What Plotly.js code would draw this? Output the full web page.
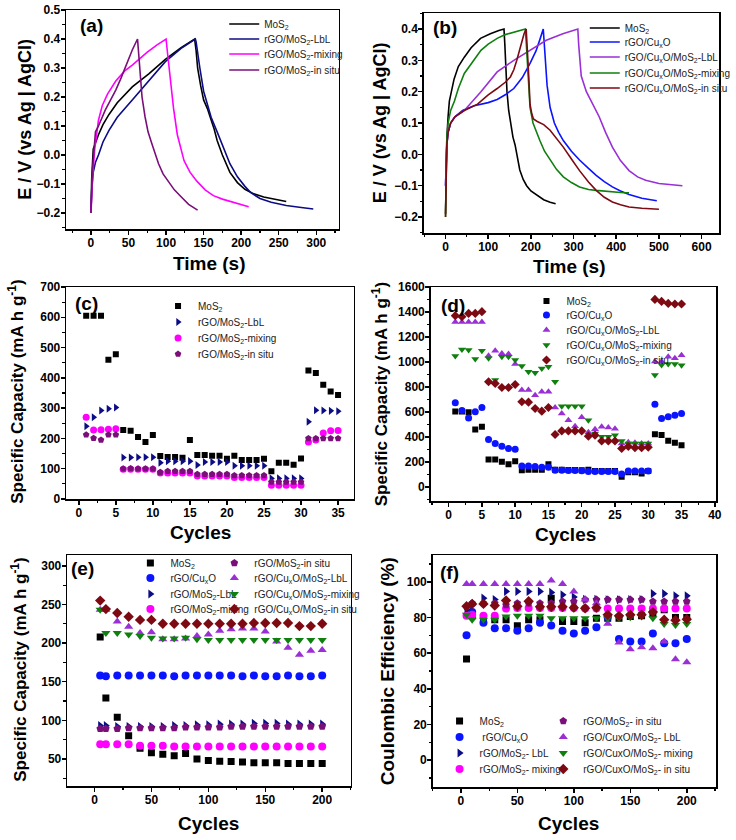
<!DOCTYPE html>
<html><head><meta charset="utf-8">
<script src="https://cdn.plot.ly/plotly-3.0.1.min.js"></script>
<style>html,body{margin:0;padding:0;background:#fff;}#chart{width:736px;height:840px;}</style>
</head><body><div id="chart"></div>
<script>
// ---------- Panel (a) GCD curves ----------
const aMoS2_t = [0,1,3,6,10,16,24,35,55,77,99,120,138,140,142,146,150,155,159,164,168,175,185,195,205,215,230,245,260];
const aMoS2_v = [-0.2,-0.08,0.02,0.045,0.07,0.105,0.14,0.18,0.235,0.28,0.33,0.37,0.4,0.36,0.3,0.24,0.19,0.16,0.13,0.09,0.05,0.0,-0.06,-0.095,-0.118,-0.132,-0.145,-0.153,-0.16];
const aLbL_t = [0,1,3,6,10,16,24,35,55,77,99,120,139,140,142,145,150,155,160,168,176,185,195,205,213,225,240,260,280,296];
const aLbL_v = [-0.2,-0.12,-0.06,-0.025,0.0,0.045,0.085,0.13,0.19,0.258,0.322,0.368,0.4,0.39,0.35,0.3,0.22,0.17,0.13,0.08,0.025,-0.03,-0.075,-0.108,-0.13,-0.15,-0.163,-0.174,-0.181,-0.186];
const aMix_t = [0,2,5,10,15,22,33,45,55,64,75,88,100,102,104,106,110,115,120,124,132,141,152,163,175,185,197,210];
const aMix_v = [-0.2,-0.08,0.02,0.12,0.17,0.21,0.255,0.29,0.31,0.33,0.355,0.38,0.4,0.35,0.3,0.24,0.16,0.07,0.02,-0.02,-0.06,-0.09,-0.12,-0.14,-0.152,-0.16,-0.17,-0.178];
const aSitu_t = [0,2,6,10,19,26,33,40,46,55,62,63,65,68,72,76,81,86,90,96,103,111,120,130,142];
const aSitu_v = [-0.2,-0.05,0.08,0.1,0.155,0.19,0.224,0.265,0.304,0.362,0.4,0.37,0.3,0.2,0.132,0.08,0.04,0.0,-0.03,-0.065,-0.09,-0.12,-0.144,-0.17,-0.19];

// ---------- Panel (b) GCD curves ----------
const bMoS2_t = [0,1,3,6,9,20,30,44,60,82,105,125,137,139,141,144,148,153,158,163,168,174,182,190,200,213,230,245,258];
const bMoS2_v = [-0.19,-0.05,0.05,0.12,0.17,0.24,0.28,0.31,0.34,0.37,0.385,0.395,0.4,0.35,0.28,0.2,0.14,0.09,0.055,0.03,-0.01,-0.05,-0.08,-0.1,-0.117,-0.13,-0.145,-0.153,-0.158];
const bCu_t = [0,1,3,6,12,22,40,67,100,121,140,160,180,198,212,222,229,231,234,238,245,255,265,276,295,314,335,353,372,391,410,430,460,495];
const bCu_v = [-0.1,-0.03,0.03,0.07,0.1,0.12,0.14,0.155,0.165,0.175,0.19,0.21,0.245,0.29,0.33,0.37,0.4,0.36,0.3,0.22,0.15,0.1,0.07,0.044,0.01,-0.018,-0.045,-0.067,-0.087,-0.104,-0.117,-0.128,-0.14,-0.148];
const bLbL_t = [0,1,3,6,12,22,44,83,121,160,198,236,275,310,312,315,318,330,345,360,375,391,410,430,450,469,500,530,555];
const bLbL_v = [-0.1,-0.03,0.03,0.07,0.1,0.12,0.14,0.2,0.263,0.3,0.332,0.364,0.385,0.4,0.35,0.3,0.25,0.2,0.16,0.12,0.07,0.023,-0.02,-0.052,-0.072,-0.083,-0.093,-0.098,-0.1];
const bMix_t = [0,1,3,6,12,21,30,44,60,83,100,121,140,160,175,187,189,192,195,198,205,213,221,232,245,260,276,295,314,335,353,380,410,430];
const bMix_v = [-0.2,-0.05,0.05,0.1,0.14,0.17,0.21,0.258,0.29,0.332,0.352,0.37,0.382,0.39,0.396,0.4,0.36,0.3,0.22,0.15,0.1,0.07,0.044,0.01,-0.018,-0.048,-0.072,-0.09,-0.104,-0.112,-0.115,-0.119,-0.122,-0.123];
const bSitu_t = [0,1,3,6,12,22,44,75,100,121,140,152,160,167,173,178,184,189,191,193,196,198,202,206,215,230,245,260,276,295,314,335,353,372,391,410,430,460,500];
const bSitu_v = [-0.2,-0.05,0.03,0.07,0.1,0.12,0.14,0.16,0.19,0.21,0.23,0.247,0.27,0.3,0.33,0.36,0.385,0.4,0.36,0.3,0.22,0.16,0.13,0.113,0.105,0.095,0.077,0.052,0.023,-0.015,-0.052,-0.088,-0.115,-0.137,-0.152,-0.161,-0.168,-0.172,-0.175];

// ---------- Rate cycles ----------
const cycles35 = [1,2,3,4,5,6,7,8,9,10,11,12,13,14,15,16,17,18,19,20,21,22,23,24,25,26,27,28,29,30,31,32,33,34,35];
// Panel (c)
const cMoS2 = [605,605,605,460,478,228,225,205,188,211,142,139,139,136,195,145,145,143,143,133,143,129,129,129,133,92,120,120,113,134,424,416,377,355,343];
const cLbL  = [240,270,292,298,302,137,137,138,138,138,120,125,125,125,125,112,122,122,122,122,110,110,110,110,110,68,68,68,68,68,255,293,292,291,290];
const cMix  = [270,228,229,230,232,98,98,98,98,98,86,86,86,86,86,76,76,76,76,76,71,71,71,71,71,45,45,45,45,45,188,195,218,225,226];
const cSitu = [212,201,195,212,212,100,101,100,100,100,88,92,92,92,92,82,82,82,82,82,78,78,78,78,78,56,56,56,56,56,200,200,200,200,200];
// Panel (d)
const dMoS2   = [605,605,600,461,483,221,221,203,184,208,136,140,140,140,184,140,140,138,138,135,140,130,130,130,130,83,120,120,110,130,424,418,371,355,336];
const dCu     = [675,613,554,603,637,381,349,328,309,304,170,170,165,160,160,135,135,133,133,132,125,125,125,125,125,105,130,130,130,130,664,549,563,576,589];
const dCuLbL  = [1320,1320,1320,1320,1320,1050,1091,1069,1064,984,776,776,736,763,763,637,589,536,487,560,440,464,483,477,467,350,360,355,350,350,1005,1005,1043,1030,1055];
const dCuMix  = [1048,1101,1096,1024,1091,1030,856,1043,1043,1016,968,923,915,949,963,843,648,648,648,648,536,430,403,403,416,370,350,350,350,350,896,976,985,985,975];
const dCuSitu = [1371,1363,1389,1389,1403,843,829,797,797,821,683,680,629,608,637,421,450,450,450,450,408,416,370,370,370,309,325,315,315,320,1501,1485,1469,1464,1464];

// ---------- Long cycling ----------
const cycles200 = [5,10,20,30,40,50,60,70,80,90,100,110,120,130,140,150,160,170,180,190,200];
// Panel (e)
const eMoS2   = [208,129,104,80,64,58,56,54,57,50,48,47,46.6,46,45,45,45,44,44,44,44];
const eCu     = [158,157,158,158,158,158,158,157,158,158,158,158,158,157,158,157,157,158,157,157,158];
const eLbL    = [93,93,92,92,92,92,92,93,93,94,94,95,95,95,96,96,96,95,95,95,95];
const eMix    = [69,69,69,69,67,67,67,66,66,66,66,66,66,66,66,66,66,66,66,66,66];
const eSitu   = [89,89,89,90,90,90,90,90,91,91,91,91,92,92,92,92,92,92,92,92,92];
const eCuLbL  = [243,243,228,221,213,214,205,205,206,209,211,216,218,219,219,215,202,194,185,190,191];
const eCuMix  = [243,213,213,211,209,207,206,206,207,205,204,204,204,204,204,204,204,204,204,204,204];
const eCuSitu = [255,244,239,234,230,230,225,225,225,225,225,225,225,225,226,226,226,226,222,222,225];
// Panel (f)
const fMoS2   = [56.7,81,80,78.7,78.7,75.3,78.7,78.7,90.8,77.7,77.7,77,79.6,79.6,79.6,80.5,81,82,84.3,80,80];
const fCu     = [70,83,77,74,74,72.5,74,77,75.5,72.5,71,72.5,74.5,80,68,66.5,66.5,71,65.5,65.5,68];
const fLbL    = [84.3,87,90.8,90,94.6,94.6,94.6,94.6,94,92.7,91.4,90.2,90.2,89.9,89.9,90,90,93.3,93.3,92.1,92.1];
const fMix    = [81,81.5,81,81,85,85.3,85.3,85.3,85.3,85.3,85.3,85,85,85,85,85,85,85,85,85,85];
const fSitu   = [86,88,88,88,87,88,88,88,88,89,89,90,90,90,90,90,90,89,89,89,89];
const fCuLbL  = [98.7,98.7,98.7,98.7,98.7,98.7,98.7,98.7,100.7,98.7,94.6,90,88,76.5,66,62.2,63.3,62.7,66.5,56.6,54.9];
const fCuMix  = [81.5,78.7,78.7,78.7,80.6,81,81,81,79.6,79.6,79.6,79.6,79.6,79.6,79.6,80.1,80.5,79.6,76.4,75.8,76.4];
const fCuSitu = [86.3,87.6,87.6,86.7,89.5,86.3,89.1,86,86,86,85.5,85.2,85.5,81.5,80.9,81.5,81.5,83,78.7,78.4,79];

// ---------- labels ----------
const N_MoS2 = 'MoS<sub>2</sub>';
const N_LbL = 'rGO/MoS<sub>2</sub>-LbL', N_Mix = 'rGO/MoS<sub>2</sub>-mixing', N_Situ = 'rGO/MoS<sub>2</sub>-in situ';
const N_Cu = 'rGO/Cu<sub>x</sub>O';
const N_CuLbL = 'rGO/Cu<sub>x</sub>O/MoS<sub>2</sub>-LbL', N_CuMix = 'rGO/Cu<sub>x</sub>O/MoS<sub>2</sub>-mixing', N_CuSitu = 'rGO/Cu<sub>x</sub>O/MoS<sub>2</sub>-in situ';

// ---------- styling / layout ----------
const W = 736, H = 840;
const FONT = 'Liberation Sans, Arial, sans-serif';
const C = {black:'#000000', blue:'#0a14ff', navy:'#0c0c86', magenta:'#ff00ff', purple:'#7a0f7a',
           violet:'#9a2fd6', green:'#0f7f0f', dred:'#7d0a12'};

const layout = {width:W, height:H, margin:{l:0,r:0,t:0,b:0}, paper_bgcolor:'#fff', plot_bgcolor:'#fff',
  showlegend:true, font:{family:FONT, color:'#000'}, annotations:[]};

const frames = {
  1:{l:67,r:343,t:10,b:229}, 2:{l:429,r:728,t:13,b:233},
  3:{l:67,r:358,t:287,b:499}, 4:{l:436,r:725,t:287,b:501},
  5:{l:68,r:355,t:555,b:786}, 6:{l:438,r:725,t:555,b:787}
};
const axSpec = {
  1:{xr:[-33,330], xd:50, xm:25, yr:[-0.255,0.5], yd:0.1, ym:0.05, yf:'.1f'},
  2:{xr:[-51,641], xd:100, xm:50, yr:[-0.251,0.451], yd:0.1, ym:0.05, yf:'.1f'},
  3:{xr:[-1.7,37.1], xd:5, xm:2.5, yr:[0,700], yd:100, ym:50},
  4:{xr:[-2.7,40.2], xd:5, xm:2.5, yr:[-110,1600], yd:200, ym:100},
  5:{xr:[-24,225], xd:50, xm:25, yr:[15,314], yd:50, ym:25},
  6:{xr:[-25,226], xd:50, xm:25, yr:[-15,115], yd:20, ym:10}
};
function mkAxis(range, dtick, mdtick, domain, anchor, fmt){
  const a = {domain, range, anchor, tick0:0, dtick, showgrid:false, zeroline:false,
    showline:true, linecolor:'#000', linewidth:1.5, mirror:true,
    ticks:'outside', ticklen:4, tickwidth:1.5, tickcolor:'#000', ticklabelstandoff:-2,
    tickfont:{family:FONT, size:12, color:'#000', weight:'bold'},
    minor:{ticks:'outside', ticklen:2.5, tickwidth:1.2, tickcolor:'#000', dtick:mdtick, tick0:0, showgrid:false}};
  if (fmt) a.tickformat = fmt;
  return a;
}
for (const k in frames){
  const f = frames[k], s = axSpec[k];
  const sx = k==='1' ? '' : k;
  layout['xaxis'+sx] = mkAxis(s.xr, s.xd, s.xm, [f.l/W, f.r/W], 'y'+sx, null);
  layout['yaxis'+sx] = mkAxis(s.yr, s.yd, s.ym, [1-f.b/H, 1-f.t/H], 'x'+sx, s.yf);
}

let nLeg = 0;
function legendAt(textX, rowY){
  nLeg++;
  const id = nLeg===1 ? 'legend' : 'legend'+nLeg;
  layout[id] = {x:(textX-40)/W, y:1-rowY/H, xanchor:'left', yanchor:'middle',
    bgcolor:'rgba(0,0,0,0)', borderwidth:0, font:{family:FONT, size:10, color:'#222'}};
  return id;
}

const traces = [];
function lineTrace(t, v, name, color, ax, textX, rowY){
  traces.push({type:'scatter', mode:'lines', x:t, y:v, name, xaxis:'x'+ax, yaxis:'y'+ax,
    line:{color, width:1.6}, legend:legendAt(textX,rowY)});
}
function ptTrace(x, y, name, color, symbol, size, ax, textX, rowY){
  traces.push({type:'scatter', mode:'markers', x, y, name, xaxis:'x'+ax, yaxis:'y'+ax,
    marker:{color, symbol, size, line:{width:0}}, legend:legendAt(textX,rowY), cliponaxis:true});
}

// (a)
lineTrace(aMoS2_t, aMoS2_v, N_MoS2, C.black, '', 267, 24);
lineTrace(aLbL_t, aLbL_v, N_LbL, C.navy, '', 267, 39);
lineTrace(aMix_t, aMix_v, N_Mix, C.magenta, '', 267, 54);
lineTrace(aSitu_t, aSitu_v, N_Situ, C.purple, '', 267, 70);
// (b)
lineTrace(bMoS2_t, bMoS2_v, N_MoS2, C.black, '2', 632, 28);
lineTrace(bCu_t, bCu_v, N_Cu, C.blue, '2', 632, 42);
lineTrace(bLbL_t, bLbL_v, N_CuLbL, C.violet, '2', 632, 57);
lineTrace(bMix_t, bMix_v, N_CuMix, C.green, '2', 632, 73);
lineTrace(bSitu_t, bSitu_v, N_CuSitu, C.dred, '2', 632, 88);
// (c)
ptTrace(cycles35, cMoS2, N_MoS2, C.black, 'square', 6, '3', 200, 306);
ptTrace(cycles35, cLbL, N_LbL, C.navy, 'triangle-right', 7, '3', 200, 322);
ptTrace(cycles35, cMix, N_Mix, C.magenta, 'circle', 7, '3', 200, 338);
ptTrace(cycles35, cSitu, N_Situ, C.purple, 'pentagon', 7, '3', 200, 354);
// (d)
ptTrace(cycles35, dMoS2, N_MoS2, C.black, 'square', 6, '4', 573, 301);
ptTrace(cycles35, dCu, N_Cu, C.blue, 'circle', 7, '4', 573, 315);
ptTrace(cycles35, dCuLbL, N_CuLbL, C.violet, 'triangle-up', 7, '4', 573, 330);
ptTrace(cycles35, dCuMix, N_CuMix, C.green, 'triangle-down', 7, '4', 573, 345);
ptTrace(cycles35, dCuSitu, N_CuSitu, C.dred, 'diamond', 7, '4', 573, 360);
// (e)
ptTrace(cycles200, eMoS2, N_MoS2, C.black, 'square', 7, '5', 172, 563);
ptTrace(cycles200, eCu, N_Cu, C.blue, 'circle', 8, '5', 172, 578);
ptTrace(cycles200, eLbL, N_LbL, C.navy, 'triangle-right', 8, '5', 172, 594);
ptTrace(cycles200, eMix, N_Mix, C.magenta, 'circle', 8, '5', 172, 609);
ptTrace(cycles200, eSitu, N_Situ, C.purple, 'pentagon', 8, '5', 257, 563);
ptTrace(cycles200, eCuLbL, N_CuLbL, C.violet, 'triangle-up', 8, '5', 257, 578);
ptTrace(cycles200, eCuMix, N_CuMix, C.green, 'triangle-down', 8, '5', 257, 594);
ptTrace(cycles200, eCuSitu, N_CuSitu, C.dred, 'diamond', 8, '5', 257, 609);
// (f)
ptTrace(cycles200, fMoS2, N_MoS2, C.black, 'square', 7, '6', 485, 721);
ptTrace(cycles200, fCu, ' '+N_Cu, C.blue, 'circle', 8, '6', 485, 737);
ptTrace(cycles200, fLbL, 'rGO/MoS<sub>2</sub>- LbL', C.navy, 'triangle-right', 8, '6', 485, 753);
ptTrace(cycles200, fMix, 'rGO/MoS<sub>2</sub>- mixing', C.magenta, 'circle', 8, '6', 485, 769);
ptTrace(cycles200, fSitu, 'rGO/MoS<sub>2</sub>- in situ', C.purple, 'pentagon', 8, '6', 590, 721);
ptTrace(cycles200, fCuLbL, 'rGO/CuxO/MoS<sub>2</sub>- LbL', C.violet, 'triangle-up', 8, '6', 590, 737);
ptTrace(cycles200, fCuMix, 'rGO/CuxO/MoS<sub>2</sub>- mixing', C.green, 'triangle-down', 8, '6', 590, 753);
ptTrace(cycles200, fCuSitu, 'rGO/CuxO/MoS<sub>2</sub>- in situ', C.dred, 'diamond', 8, '6', 590, 769);

// ---------- text annotations (panel labels and axis titles) ----------
function ann(text, px, py, size, angle, xanchor){
  layout.annotations.push({text, x:px/W, y:1-py/H, xref:'paper', yref:'paper', showarrow:false,
    xanchor:xanchor||'center', yanchor:'middle', textangle:angle||0,
    font:{family:FONT, size, color:'#000'}});
}
ann('<b>(a)</b>', 79, 25, 19, 0, 'left');
ann('<b>(b)</b>', 436, 28, 19, 0, 'left');
ann('<b>(c)</b>', 74, 303, 19, 0, 'left');
ann('<b>(d)</b>', 444, 305, 19, 0, 'left');
ann('<b>(e)</b>', 70, 568, 19, 0, 'left');
ann('<b>(f)</b>', 443, 572, 19, 0, 'left');

ann('<b>Time (s)</b>', 212, 263, 19);
ann('<b>Time (s)</b>', 577, 266, 19);
ann('<b>Cycles</b>', 203, 532, 19);
ann('<b>Cycles</b>', 572, 534, 19);
ann('<b>Cycles</b>', 211, 823, 19);
ann('<b>Cycles</b>', 576, 823, 19);

ann('<b>E / V (vs Ag | AgCl)</b>', 25, 119, 18, -90);
ann('<b>E / V (vs Ag | AgCl)</b>', 385, 123, 18, -90);
ann('<b>Specific Capacity (mA h g<sup>-1</sup>)</b>', 16, 392, 17, -90);
ann('<b>Specific Capacity (mA h g<sup>-1</sup>)</b>', 385, 394, 17, -90);
ann('<b>Specific Capacity (mA h g<sup>-1</sup>)</b>', 19, 670, 17, -90);
ann('<b>Coulombic Efficiency (%)</b>', 392, 671, 19, -90);

Plotly.newPlot('chart', traces, layout, {staticPlot:true, displayModeBar:false});
</script></body></html>
